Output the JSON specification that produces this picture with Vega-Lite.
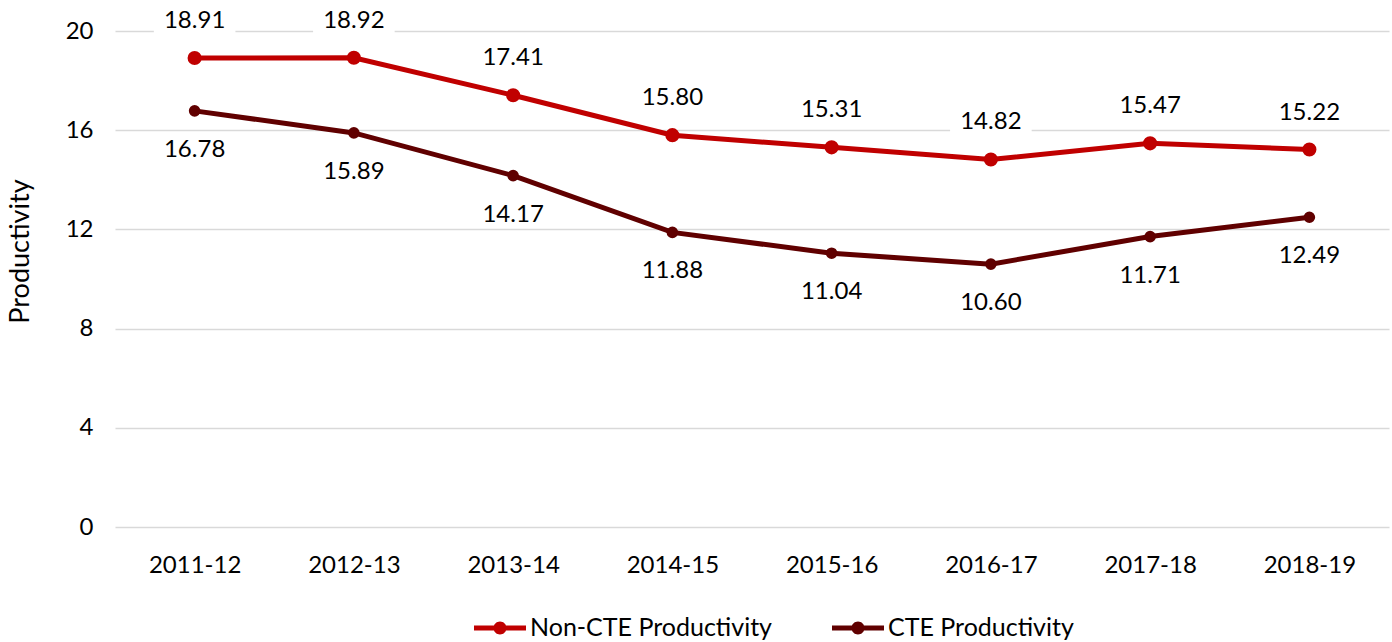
{
  "$schema": "https://vega.github.io/schema/vega-lite/v6.json",
  "width": 1274,
  "height": 496,
  "autosize": {"type": "none"},
  "padding": {"left": 115, "top": 31, "right": 3, "bottom": 115},
  "background": "white",
  "config": {
    "font": "Lato",
    "view": {"stroke": null},
    "axis": {"labelFont": "Lato", "titleFont": "Lato", "labelColor": "#000000", "titleColor": "#000000"},
    "legend": {"symbolSize": 676}
  },
  "data": {
    "values": [
      {"year": "2011-12", "series": "Non-CTE Productivity", "value": 18.91},
      {"year": "2012-13", "series": "Non-CTE Productivity", "value": 18.92},
      {"year": "2013-14", "series": "Non-CTE Productivity", "value": 17.41},
      {"year": "2014-15", "series": "Non-CTE Productivity", "value": 15.80},
      {"year": "2015-16", "series": "Non-CTE Productivity", "value": 15.31},
      {"year": "2016-17", "series": "Non-CTE Productivity", "value": 14.82},
      {"year": "2017-18", "series": "Non-CTE Productivity", "value": 15.47},
      {"year": "2018-19", "series": "Non-CTE Productivity", "value": 15.22},
      {"year": "2011-12", "series": "CTE Productivity", "value": 16.78},
      {"year": "2012-13", "series": "CTE Productivity", "value": 15.89},
      {"year": "2013-14", "series": "CTE Productivity", "value": 14.17},
      {"year": "2014-15", "series": "CTE Productivity", "value": 11.88},
      {"year": "2015-16", "series": "CTE Productivity", "value": 11.04},
      {"year": "2016-17", "series": "CTE Productivity", "value": 10.60},
      {"year": "2017-18", "series": "CTE Productivity", "value": 11.71},
      {"year": "2018-19", "series": "CTE Productivity", "value": 12.49}
    ]
  },
  "encoding": {
    "x": {
      "field": "year", "type": "ordinal",
      "scale": {"type": "point", "padding": 0.5},
      "axis": {"title": null, "labelAngle": 0, "labelFontSize": 24, "labelPadding": 26, "ticks": false, "domain": false, "grid": false}
    },
    "y": {
      "field": "value", "type": "quantitative",
      "scale": {"domain": [0, 20], "nice": false},
      "axis": {
        "title": "Productivity", "titleFontSize": 27, "titleFontWeight": "normal",
        "titleX": -95, "titleY": 220, "titleAngle": -90, "titleBaseline": "middle", "titleAlign": "center",
        "values": [0, 4, 8, 12, 16, 20], "labelFontSize": 24, "labelPadding": 22,
        "ticks": false, "domain": false, "grid": true, "gridColor": "#d9d9d9", "gridWidth": 1.5
      }
    }
  },
  "layer": [
    {
      "transform": [{"filter": "datum.series === 'Non-CTE Productivity'"}],
      "mark": {
        "type": "point", "filled": true, "opacity": 1, "color": "white", "size": 2600, "yOffset": -37,
        "shape": "M-1.6,-0.6 L1.6,-0.6 L1.6,0.6 L-1.6,0.6 Z"
      }
    },
    {
      "mark": {"type": "line", "strokeWidth": 5},
      "encoding": {
        "color": {
          "field": "series", "type": "nominal",
          "scale": {"domain": ["Non-CTE Productivity", "CTE Productivity"], "range": ["#c00000", "#600000"]},
          "legend": {
            "title": null, "orient": "none", "direction": "horizontal",
            "legendX": 372, "legendY": 584, "padding": 0, "labelLimit": 0,
            "labelFont": "Lato", "labelFontSize": 25, "labelColor": "#000000",
            "symbolType": "M-2,-0.2 L-0.45,-0.2 L-0.45,0.2 L-2,0.2 Z M0.45,-0.2 L2,-0.2 L2,0.2 L0.45,0.2 Z M-0.5,0 A0.5,0.5 0 1,1 0.5,0 A0.5,0.5 0 1,1 -0.5,0 Z",
            "symbolSize": 676, "symbolStrokeWidth": 0, "labelOffset": 17, "columnPadding": 60,
            "encode": {"symbols": {"update": {"fill": {"scale": "color", "field": "value"}, "stroke": {"value": "transparent"}, "opacity": {"value": 1}, "size": {"value": 676}}}}
          }
        }
      }
    },
    {
      "transform": [{"filter": "datum.series === 'Non-CTE Productivity'"}],
      "mark": {"type": "point", "filled": true, "opacity": 1, "size": 200},
      "encoding": {"color": {"field": "series", "type": "nominal"}}
    },
    {
      "transform": [{"filter": "datum.series === 'CTE Productivity'"}],
      "mark": {"type": "point", "filled": true, "opacity": 1, "size": 135},
      "encoding": {"color": {"field": "series", "type": "nominal"}}
    },
    {
      "transform": [{"filter": "datum.series === 'Non-CTE Productivity'"}],
      "mark": {"type": "text", "fontSize": 24, "font": "Lato", "color": "#000000", "dy": -37, "baseline": "middle"},
      "encoding": {"text": {"field": "value", "type": "quantitative", "format": ".2f"}}
    },
    {
      "transform": [{"filter": "datum.series === 'CTE Productivity'"}],
      "mark": {"type": "text", "fontSize": 24, "font": "Lato", "color": "#000000", "dy": 39, "baseline": "middle"},
      "encoding": {"text": {"field": "value", "type": "quantitative", "format": ".2f"}}
    }
  ]
}
